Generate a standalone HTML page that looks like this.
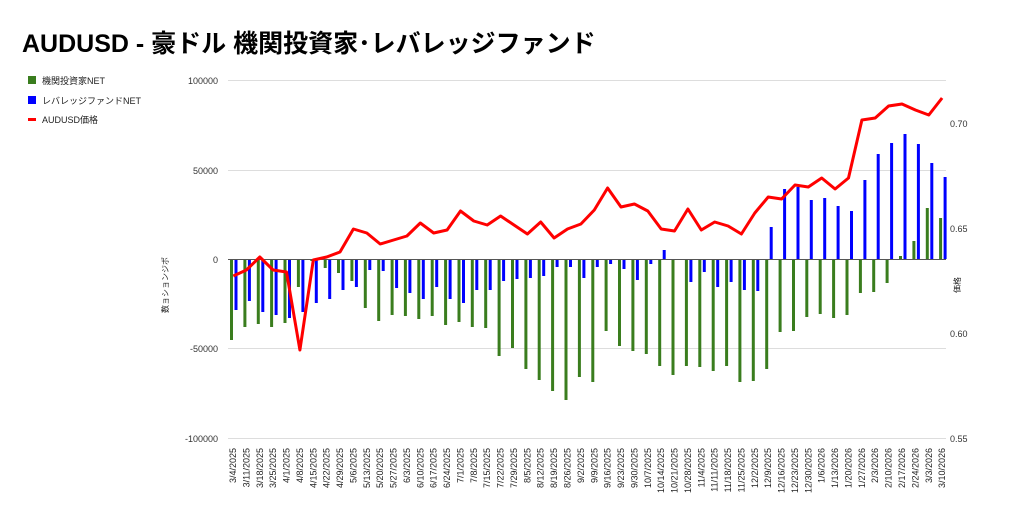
<!DOCTYPE html>
<html><head><meta charset="utf-8"><style>
body{margin:0;background:#fff;}
svg{display:block;font-family:"Liberation Sans","Noto Sans CJK JP",sans-serif;}
</style></head><body>
<svg width="1024" height="518" viewBox="0 0 1024 518" xmlns="http://www.w3.org/2000/svg">
<text x="22" y="52" font-size="25" font-weight="bold" fill="#000">AUDUSD - 豪ドル 機関投資家･レバレッジファンド</text>
<rect x="28" y="76" width="8" height="8" fill="#3a7d1e"/><text x="42" y="84" font-size="9" fill="#222">機関投資家NET</text>
<rect x="28" y="96" width="8" height="8" fill="#0000ff"/><text x="42" y="104" font-size="9" fill="#222">レバレッジファンドNET</text>
<rect x="28" y="118" width="8" height="3" fill="#ff0000"/><text x="42" y="123" font-size="9" fill="#222">AUDUSD価格</text>
<g stroke="#ddd" stroke-width="1">
<line x1="228" y1="80.5" x2="946" y2="80.5"/><line x1="228" y1="170.5" x2="946" y2="170.5"/>
<line x1="228" y1="348.5" x2="946" y2="348.5"/><line x1="228" y1="438.5" x2="946" y2="438.5"/>
</g>
<g font-size="9" fill="#333" text-anchor="end">
<text x="218" y="84">100000</text><text x="218" y="174">50000</text><text x="218" y="263">0</text><text x="218" y="352">-50000</text><text x="218" y="442">-100000</text>
</g>
<g font-size="9" fill="#333">
<text x="950" y="127">0.70</text><text x="950" y="232">0.65</text><text x="950" y="337">0.60</text><text x="950" y="442">0.55</text>
</g>
<text transform="translate(168,285) rotate(-90)" font-size="8" fill="#222" text-anchor="middle">数ョションジポ</text>
<text transform="translate(960,285) rotate(-90)" font-size="8" fill="#222" text-anchor="middle">価格</text>
<g stroke="#3a7d1e" stroke-width="3">
<line x1="231.5" y1="259" x2="231.5" y2="340"/><line x1="244.9" y1="259" x2="244.9" y2="327"/><line x1="258.3" y1="259" x2="258.3" y2="324"/><line x1="271.6" y1="259" x2="271.6" y2="327"/><line x1="285" y1="259" x2="285" y2="323"/><line x1="298.4" y1="259" x2="298.4" y2="287"/><line x1="311.8" y1="259" x2="311.8" y2="261"/><line x1="325.2" y1="259" x2="325.2" y2="268"/><line x1="338.5" y1="259" x2="338.5" y2="273"/><line x1="351.9" y1="259" x2="351.9" y2="281"/><line x1="365.3" y1="259" x2="365.3" y2="308"/><line x1="378.7" y1="259" x2="378.7" y2="321"/><line x1="392.1" y1="259" x2="392.1" y2="315"/><line x1="405.4" y1="259" x2="405.4" y2="316"/><line x1="418.8" y1="259" x2="418.8" y2="319"/><line x1="432.2" y1="259" x2="432.2" y2="316"/><line x1="445.6" y1="259" x2="445.6" y2="325"/><line x1="459" y1="259" x2="459" y2="322"/><line x1="472.3" y1="259" x2="472.3" y2="327"/><line x1="485.7" y1="259" x2="485.7" y2="328"/><line x1="499.1" y1="259" x2="499.1" y2="356"/><line x1="512.5" y1="259" x2="512.5" y2="348"/><line x1="525.9" y1="259" x2="525.9" y2="369"/><line x1="539.2" y1="259" x2="539.2" y2="380"/><line x1="552.6" y1="259" x2="552.6" y2="391"/><line x1="566" y1="259" x2="566" y2="400"/><line x1="579.4" y1="259" x2="579.4" y2="377"/><line x1="592.8" y1="259" x2="592.8" y2="382"/><line x1="606.1" y1="259" x2="606.1" y2="331"/><line x1="619.5" y1="259" x2="619.5" y2="346"/><line x1="632.9" y1="259" x2="632.9" y2="351"/><line x1="646.3" y1="259" x2="646.3" y2="354"/><line x1="659.7" y1="259" x2="659.7" y2="366"/><line x1="673" y1="259" x2="673" y2="375"/><line x1="686.4" y1="259" x2="686.4" y2="366"/><line x1="699.8" y1="259" x2="699.8" y2="367"/><line x1="713.2" y1="259" x2="713.2" y2="371"/><line x1="726.6" y1="259" x2="726.6" y2="366"/><line x1="739.9" y1="259" x2="739.9" y2="382"/><line x1="753.3" y1="259" x2="753.3" y2="381"/><line x1="766.7" y1="259" x2="766.7" y2="369"/><line x1="780.1" y1="259" x2="780.1" y2="332"/><line x1="793.5" y1="259" x2="793.5" y2="331"/><line x1="806.8" y1="259" x2="806.8" y2="317"/><line x1="820.2" y1="259" x2="820.2" y2="314"/><line x1="833.6" y1="259" x2="833.6" y2="318"/><line x1="847" y1="259" x2="847" y2="315"/><line x1="860.4" y1="259" x2="860.4" y2="293"/><line x1="873.7" y1="259" x2="873.7" y2="292"/><line x1="887.1" y1="259" x2="887.1" y2="283"/><line x1="900.5" y1="259" x2="900.5" y2="256"/><line x1="913.9" y1="259" x2="913.9" y2="241"/><line x1="927.3" y1="259" x2="927.3" y2="208"/><line x1="940.6" y1="259" x2="940.6" y2="218"/>
</g>
<g stroke="#0000ff" stroke-width="3">
<line x1="236" y1="259" x2="236" y2="310"/><line x1="249.4" y1="259" x2="249.4" y2="301"/><line x1="262.8" y1="259" x2="262.8" y2="312"/><line x1="276.1" y1="259" x2="276.1" y2="315"/><line x1="289.5" y1="259" x2="289.5" y2="318"/><line x1="302.9" y1="259" x2="302.9" y2="312"/><line x1="316.3" y1="259" x2="316.3" y2="303"/><line x1="329.7" y1="259" x2="329.7" y2="299"/><line x1="343" y1="259" x2="343" y2="290"/><line x1="356.4" y1="259" x2="356.4" y2="287"/><line x1="369.8" y1="259" x2="369.8" y2="270"/><line x1="383.2" y1="259" x2="383.2" y2="271"/><line x1="396.6" y1="259" x2="396.6" y2="288"/><line x1="409.9" y1="259" x2="409.9" y2="293"/><line x1="423.3" y1="259" x2="423.3" y2="299"/><line x1="436.7" y1="259" x2="436.7" y2="287"/><line x1="450.1" y1="259" x2="450.1" y2="299"/><line x1="463.5" y1="259" x2="463.5" y2="303"/><line x1="476.8" y1="259" x2="476.8" y2="290"/><line x1="490.2" y1="259" x2="490.2" y2="290"/><line x1="503.6" y1="259" x2="503.6" y2="281"/><line x1="517" y1="259" x2="517" y2="279"/><line x1="530.4" y1="259" x2="530.4" y2="278"/><line x1="543.7" y1="259" x2="543.7" y2="276"/><line x1="557.1" y1="259" x2="557.1" y2="267"/><line x1="570.5" y1="259" x2="570.5" y2="267"/><line x1="583.9" y1="259" x2="583.9" y2="278"/><line x1="597.3" y1="259" x2="597.3" y2="267"/><line x1="610.6" y1="259" x2="610.6" y2="264"/><line x1="624" y1="259" x2="624" y2="269"/><line x1="637.4" y1="259" x2="637.4" y2="280"/><line x1="650.8" y1="259" x2="650.8" y2="264"/><line x1="664.2" y1="259" x2="664.2" y2="250"/><line x1="690.9" y1="259" x2="690.9" y2="282"/><line x1="704.3" y1="259" x2="704.3" y2="272"/><line x1="717.7" y1="259" x2="717.7" y2="287"/><line x1="731.1" y1="259" x2="731.1" y2="282"/><line x1="744.4" y1="259" x2="744.4" y2="290"/><line x1="757.8" y1="259" x2="757.8" y2="291"/><line x1="771.2" y1="259" x2="771.2" y2="227"/><line x1="784.6" y1="259" x2="784.6" y2="189"/><line x1="798" y1="259" x2="798" y2="187"/><line x1="811.3" y1="259" x2="811.3" y2="200"/><line x1="824.7" y1="259" x2="824.7" y2="198"/><line x1="838.1" y1="259" x2="838.1" y2="206"/><line x1="851.5" y1="259" x2="851.5" y2="211"/><line x1="864.9" y1="259" x2="864.9" y2="180"/><line x1="878.2" y1="259" x2="878.2" y2="154"/><line x1="891.6" y1="259" x2="891.6" y2="143"/><line x1="905" y1="259" x2="905" y2="134"/><line x1="918.4" y1="259" x2="918.4" y2="144"/><line x1="931.8" y1="259" x2="931.8" y2="163"/><line x1="945.1" y1="259" x2="945.1" y2="177"/>
</g>
<line x1="228" y1="259.5" x2="946" y2="259.5" stroke="#555" stroke-width="1"/>
<polyline fill="none" stroke="#ff0000" stroke-width="3" stroke-linejoin="round" points="233.3,276 246.4,270 259.8,257 273.1,270 286.5,272 299.9,350 313.3,260 326.7,257 340,252 353.4,229 366.8,233 380.2,244 393.6,240 406.9,236 420.3,223 433.7,233 447.1,230 460.5,211 473.8,221 487.2,225 500.6,216 514,225 527.4,234 540.7,222 554.1,238 567.5,229 580.9,224 594.3,210 607.6,188 621,207 634.4,204 647.8,211 661.2,229 674.5,231 687.9,209 701.3,230 714.7,222 728.1,226 741.4,234 754.8,213 768.2,197 781.6,199 795,185 808.3,187 821.7,178 835.1,189 848.5,178 861.9,120 875.2,118 888.6,106 902,104 915.4,110 928.8,115 942.1,98"/>
<g font-size="9" fill="#222" text-anchor="end">
<text transform="translate(236,448) rotate(-90)">3/4/2025</text><text transform="translate(249.4,448) rotate(-90)">3/11/2025</text><text transform="translate(262.8,448) rotate(-90)">3/18/2025</text><text transform="translate(276.1,448) rotate(-90)">3/25/2025</text><text transform="translate(289.5,448) rotate(-90)">4/1/2025</text><text transform="translate(302.9,448) rotate(-90)">4/8/2025</text><text transform="translate(316.3,448) rotate(-90)">4/15/2025</text><text transform="translate(329.7,448) rotate(-90)">4/22/2025</text><text transform="translate(343,448) rotate(-90)">4/29/2025</text><text transform="translate(356.4,448) rotate(-90)">5/6/2025</text><text transform="translate(369.8,448) rotate(-90)">5/13/2025</text><text transform="translate(383.2,448) rotate(-90)">5/20/2025</text><text transform="translate(396.6,448) rotate(-90)">5/27/2025</text><text transform="translate(409.9,448) rotate(-90)">6/3/2025</text><text transform="translate(423.3,448) rotate(-90)">6/10/2025</text><text transform="translate(436.7,448) rotate(-90)">6/17/2025</text><text transform="translate(450.1,448) rotate(-90)">6/24/2025</text><text transform="translate(463.5,448) rotate(-90)">7/1/2025</text><text transform="translate(476.8,448) rotate(-90)">7/8/2025</text><text transform="translate(490.2,448) rotate(-90)">7/15/2025</text><text transform="translate(503.6,448) rotate(-90)">7/22/2025</text><text transform="translate(517,448) rotate(-90)">7/29/2025</text><text transform="translate(530.4,448) rotate(-90)">8/5/2025</text><text transform="translate(543.7,448) rotate(-90)">8/12/2025</text><text transform="translate(557.1,448) rotate(-90)">8/19/2025</text><text transform="translate(570.5,448) rotate(-90)">8/26/2025</text><text transform="translate(583.9,448) rotate(-90)">9/2/2025</text><text transform="translate(597.3,448) rotate(-90)">9/9/2025</text><text transform="translate(610.6,448) rotate(-90)">9/16/2025</text><text transform="translate(624,448) rotate(-90)">9/23/2025</text><text transform="translate(637.4,448) rotate(-90)">9/30/2025</text><text transform="translate(650.8,448) rotate(-90)">10/7/2025</text><text transform="translate(664.2,448) rotate(-90)">10/14/2025</text><text transform="translate(677.5,448) rotate(-90)">10/21/2025</text><text transform="translate(690.9,448) rotate(-90)">10/28/2025</text><text transform="translate(704.3,448) rotate(-90)">11/4/2025</text><text transform="translate(717.7,448) rotate(-90)">11/11/2025</text><text transform="translate(731.1,448) rotate(-90)">11/18/2025</text><text transform="translate(744.4,448) rotate(-90)">11/25/2025</text><text transform="translate(757.8,448) rotate(-90)">12/2/2025</text><text transform="translate(771.2,448) rotate(-90)">12/9/2025</text><text transform="translate(784.6,448) rotate(-90)">12/16/2025</text><text transform="translate(798,448) rotate(-90)">12/23/2025</text><text transform="translate(811.3,448) rotate(-90)">12/30/2025</text><text transform="translate(824.7,448) rotate(-90)">1/6/2026</text><text transform="translate(838.1,448) rotate(-90)">1/13/2026</text><text transform="translate(851.5,448) rotate(-90)">1/20/2026</text><text transform="translate(864.9,448) rotate(-90)">1/27/2026</text><text transform="translate(878.2,448) rotate(-90)">2/3/2026</text><text transform="translate(891.6,448) rotate(-90)">2/10/2026</text><text transform="translate(905,448) rotate(-90)">2/17/2026</text><text transform="translate(918.4,448) rotate(-90)">2/24/2026</text><text transform="translate(931.8,448) rotate(-90)">3/3/2026</text><text transform="translate(945.1,448) rotate(-90)">3/10/2026</text>
</g>
</svg>
</body></html>
